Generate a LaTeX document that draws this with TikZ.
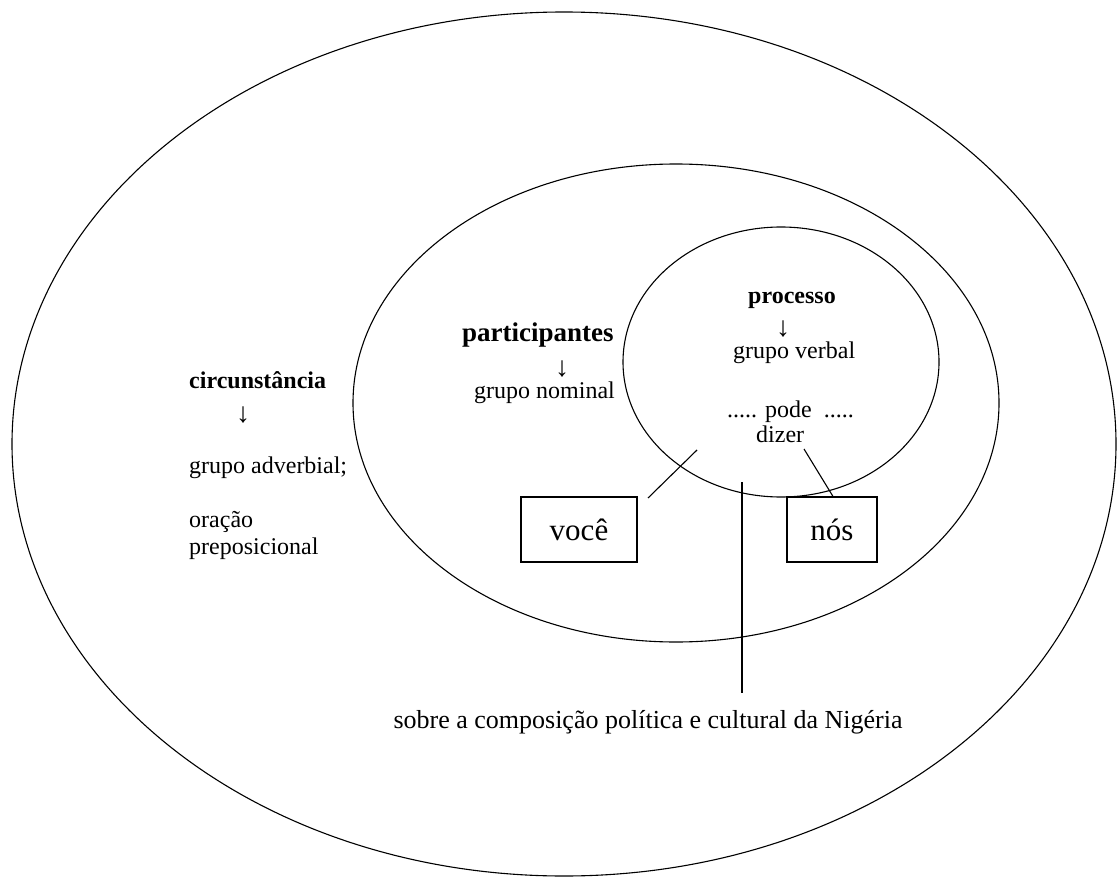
\documentclass[tikz,border=0pt]{standalone}
\usepackage{fontspec}
\setmainfont{Liberation Serif}
\usetikzlibrary{shapes.geometric}
\begin{document}
\begin{tikzpicture}[x=1pt,y=-1pt,
  ring/.style={draw,line width=1.1pt},
  txt/.style={inner sep=0pt,anchor=base west,font=\fontsize{24}{27}\selectfont},
  head/.style={txt,font=\fontsize{24}{27}\selectfont\bfseries},
  arr/.style={inner sep=0pt,anchor=base,font=\fontsize{28}{30}\selectfont},
  wordbox/.style={draw,line width=1.1pt,inner sep=0pt,font=\fontsize{31}{34}\selectfont},
  link/.style={line width=1.1pt}]
\useasboundingbox (0,0) rectangle (1118,877);
\node[ring,ellipse,inner sep=0pt,minimum width=1104pt,minimum height=864pt] (outer) at (564,444) {};
\node[ring,ellipse,inner sep=0pt,minimum width=646pt,minimum height=478pt] (middle) at (676,403) {};
\node[ring,ellipse,inner sep=0pt,minimum width=316pt,minimum height=270pt] (inner) at (781,362) {};
% circunstancia
\node[head] (circ) at (189,388) {circunstância};
\node[arr] (a1) at (243,422) {↓};
\node[txt] (gadv) at (189,473) {grupo adverbial;};
\node[txt] (orac) at (189,527) {oração};
\node[txt] (prep) at (189,554) {preposicional};
% participantes
\node[head,font=\fontsize{27}{30}\selectfont\bfseries] (part) at (462,341) {participantes};
\node[arr] (a2) at (562,376) {↓};
\node[txt] (gnom) at (474,398) {grupo nominal};
% processo
\node[head] (proc) at (748,303) {processo};
\node[arr] (a3) at (783,336) {↓};
\node[txt] (gverb) at (733,358) {grupo verbal};
\node[txt] (pode) at (727,417) {..... pode~ .....};
\node[txt] (dizer) at (756,442) {dizer};
% boxes
\node[wordbox,minimum width=116pt,minimum height=65pt] (voce) at (579,529.5) {você};
\node[wordbox,minimum width=90pt,minimum height=65pt] (nos) at (832,529.5) {nós};
\node[inner sep=0pt,anchor=base,font=\fontsize{26}{29}\selectfont] (sobre) at (648,728) {sobre a composição política e cultural da Nigéria};
% connectors
\coordinate (vend) at (697,450);
\coordinate (vstart) at (648,498);
\coordinate (nend) at (804,449);
\coordinate (ltop) at (742,482);
\coordinate (lbot) at (742,693);
\draw[link] (vstart) -- (vend);
\draw[link] (nos.north) ++(1pt,0) -- (nend);
\draw[link] (ltop) -- (lbot);
\end{tikzpicture}
\end{document}
